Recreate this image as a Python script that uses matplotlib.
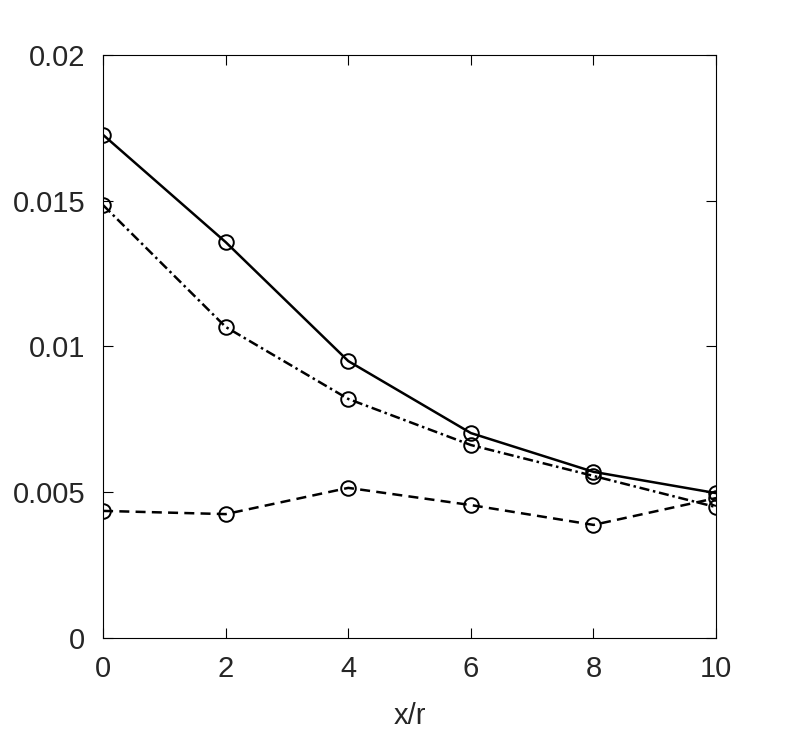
import matplotlib
matplotlib.use("Agg")
import matplotlib.pyplot as plt

x = [0, 2, 4, 6, 8, 10]
solid = [0.01726, 0.01358, 0.0095, 0.00703, 0.0057, 0.00497]
dashdot = [0.01485, 0.01067, 0.0082, 0.00662, 0.00556, 0.00449]
dashed = [0.00436, 0.00425, 0.00515, 0.00456, 0.00388, 0.0048]

plt.rcParams['font.family'] = ['Liberation Sans', 'DejaVu Sans']

fig = plt.figure(figsize=(7.93, 7.33), dpi=100)
ax = fig.add_axes([0.130, 0.1296, 0.773, 0.7954])

style = dict(color='black', marker='o', markersize=10.5, markerfacecolor='none',
             markeredgewidth=1.4, linewidth=1.8)
ax.plot(x, solid, linestyle='-', **style)
ax.plot(x, dashdot, linestyle=(0, (4, 1.5, 1, 1.5)), **style)
ax.plot(x, dashed, linestyle=(0, (4, 2.5)), **style)

ax.set_xlim(0, 10)
ax.set_ylim(0, 0.02)
ax.set_xticks([0, 2, 4, 6, 8, 10])
ax.set_yticks([0, 0.005, 0.01, 0.015, 0.02])
ax.set_yticklabels(['0', '0.005', '0.01', '0.015', '0.02'])
ax.tick_params(direction='in', top=True, right=True, labelsize=21,
               labelcolor='#262626', length=7, width=0.8)
ax.tick_params(axis='y', pad=13)
ax.tick_params(axis='x', pad=12)
for s in ax.spines.values():
    s.set_linewidth(0.8)
ax.set_xlabel('x/r', fontsize=21, color='#262626', labelpad=14)

fig.savefig('out.png', dpi=100)
